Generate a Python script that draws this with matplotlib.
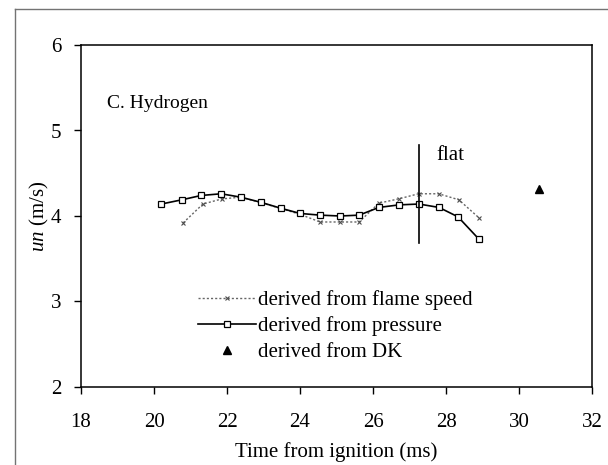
import matplotlib
matplotlib.use("Agg")
import matplotlib.pyplot as plt
from matplotlib.lines import Line2D

plt.rcParams["font.family"] = ["Liberation Serif", "DejaVu Serif"]
plt.rcParams["mathtext.fontset"] = "custom"
plt.rcParams["mathtext.it"] = "Liberation Serif:italic"
plt.rcParams["mathtext.rm"] = "Liberation Serif"

# flame-speed derived burning velocity
t_flame = [20.8, 21.34, 21.86, 22.38, 22.9, 23.45, 24.0, 24.55, 25.1, 25.62,
           26.16, 26.7, 27.25, 27.8, 28.35, 28.9]
u_flame = [3.92, 4.14, 4.20, 4.22, 4.16, 4.09, 4.02, 3.93, 3.93, 3.93,
           4.15, 4.20, 4.26, 4.26, 4.19, 3.98]

# pressure derived burning velocity
t_press = [20.2, 20.77, 21.29, 21.84, 22.38, 22.93, 23.48, 24.0, 24.55, 25.1,
           25.62, 26.16, 26.71, 27.26, 27.81, 28.33, 28.9]
u_press = [4.14, 4.19, 4.24, 4.26, 4.22, 4.16, 4.09, 4.03, 4.01, 4.00,
           4.01, 4.10, 4.13, 4.14, 4.10, 3.99, 3.73]

# DK point
t_dk = [30.55]
u_dk = [4.32]

flat_t = 27.26
flat_range = (3.68, 4.83)

FS = 15

fig = plt.figure(figsize=(6.08, 4.65), dpi=100)
ax = fig.add_axes([81 / 608, 1 - 387 / 465, 511 / 608, 342 / 465])

# outer frame (left + top edges visible)
fig.add_artist(Line2D([15 / 608, 15 / 608], [0, 1 - 9 / 465], transform=fig.transFigure,
                      color="0.45", lw=1.0))
fig.add_artist(Line2D([15 / 608, 1], [1 - 9 / 465, 1 - 9 / 465], transform=fig.transFigure,
                      color="0.45", lw=1.0))

ax.plot(t_flame, u_flame, color="0.4", ls=(0, (1.5, 1.5)), lw=1.0, marker="x", ms=3.2,
        mec="0.3", mew=0.8, label="derived from flame speed")
ax.plot(t_press, u_press, color="black", ls="-", lw=1.2, marker="s", ms=3.8,
        mfc="white", mec="black", mew=0.9, label="derived from pressure")
ax.plot(t_dk, u_dk, ls="none", marker="^", ms=5.5, color="black", label="derived from DK")

ax.plot([flat_t, flat_t], flat_range, color="black", lw=1.2)
ax.text(27.75, 4.71, "flat", fontsize=FS, va="center", ha="left")
ax.text(18.71, 5.32, "C. Hydrogen", fontsize=FS - 1, va="center", ha="left")

ax.set_xlim(18, 32)
ax.set_ylim(2, 6)
ax.set_xticks(range(18, 33, 2))
ax.set_yticks(range(2, 7))
ax.tick_params(direction="out", length=5, width=1, labelsize=FS, color="black")
ax.tick_params(axis="y", pad=9)
ax.tick_params(axis="x", pad=14)
for s in ax.spines.values():
    s.set_linewidth(1.1)
ax.set_xlabel("Time from ignition (ms)", fontsize=FS, labelpad=7)
ax.set_ylabel("$un$ (m/s)", fontsize=FS, labelpad=0)

ax.legend(loc="upper left", bbox_to_anchor=(0.20, 0.325), frameon=False, fontsize=FS,
          handlelength=2.8, handletextpad=0.1, labelspacing=0.3, borderpad=0.2)

fig.savefig("out.png", dpi=100)
